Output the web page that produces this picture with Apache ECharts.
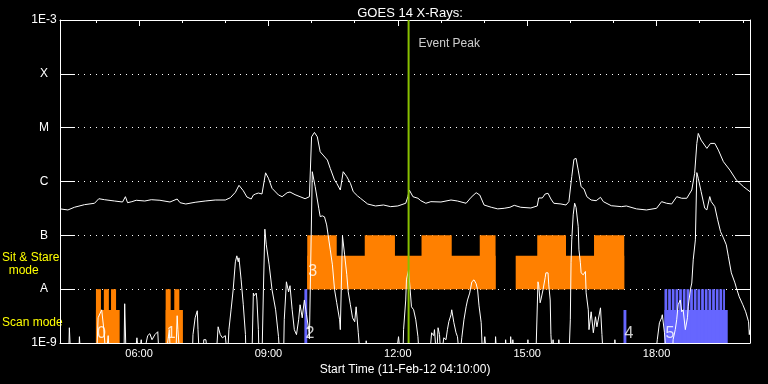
<!DOCTYPE html>
<html><head><meta charset="utf-8">
<script src="https://cdn.jsdelivr.net/npm/echarts@6/dist/echarts.min.js"></script>
<style>html,body{margin:0;padding:0;background:#000}#c{width:768px;height:384px}</style>
</head><body><div id="c"></div>
<script>
// ---- axis range / ticks ----
const axisStart = '04:10';
const axisEnd = '20:10';
const majorTicks = ['06:00','09:00','12:00','15:00','18:00'];
const minorTicks = ['05:00','07:00','08:00','10:00','11:00','13:00','14:00','16:00','17:00','19:00','20:00'];
const yDecades = [1e-9,1e-8,1e-7,1e-6,1e-5,1e-4,1e-3];
const yTickLabels = ['1E-9','A','B','C','M','X','1E-3'];
const xTitle = 'Start Time (11-Feb-12 04:10:00)';
const chartTitle = 'GOES 14 X-Rays:';

// ---- GOES long channel (1-8 A) ----
const longTimes = ['04:10','04:21','04:30','04:44','04:58','05:04','05:12','05:26','05:37','05:41','05:44','05:50','05:56','06:08','06:17','06:29','06:43','06:53','06:57','07:05','07:18','07:32','07:46','08:00','08:07','08:14','08:19','08:25','08:30','08:36','08:39','08:42','08:46','08:51','08:56','09:00','09:05','09:14','09:19','09:26','09:30','09:37','09:44','09:51','09:57','10:00','10:04','10:08','10:12','10:16','10:22','10:26','10:32','10:35','10:40','10:44','10:49','10:54','10:58','11:04','11:08','11:18','11:29','11:40','11:50','12:00','12:11','12:14','12:16','12:21','12:28','12:32','12:39','12:46','13:00','13:14','13:23','13:35','13:42','13:49','13:54','14:00','14:10','14:19','14:28','14:36','14:42','14:51','15:05','15:14','15:16','15:21','15:25','15:29','15:33','15:37','15:47','15:54','15:58','16:02','16:05','16:08','16:11','16:15','16:19','16:23','16:29','16:36','16:42','16:46','16:57','17:11','17:18','17:32','17:46','18:00','18:07','18:14','18:21','18:28','18:35','18:42','18:49','18:53','18:56','18:58','19:02','19:10','19:15','19:21','19:26','19:33','19:42','19:51','20:01','20:10'];
const longFlux = [3.1e-7,2.96e-7,3.32e-7,3.71e-7,3.94e-7,4.79e-7,4.59e-7,4.34e-7,4.16e-7,5.22e-7,4.04e-7,4.22e-7,4.48e-7,4.34e-7,4.59e-7,4.48e-7,4.16e-7,4.73e-7,4.04e-7,3.82e-7,4.11e-7,4.34e-7,4.53e-7,4.53e-7,5.0e-7,6.3e-7,8.49e-7,6.74e-7,5.15e-7,4.73e-7,5.6e-7,5.86e-7,6.1e-7,5.86e-7,1.45e-6,1.15e-6,7.47e-7,5.61e-7,5.22e-7,6.19e-7,6.38e-7,5.69e-7,5.22e-7,4.79e-7,5.22e-7,6.76e-6,8.16e-6,6.76e-6,3.56e-6,3.10e-6,2.50e-6,1.75e-6,1.06e-6,9.25e-7,6.95e-7,1.52e-6,1.23e-6,9.25e-7,6.46e-7,5.38e-7,4.88e-7,3.82e-7,3.51e-7,3.66e-7,3.41e-7,3.51e-7,3.94e-7,5.22e-7,6.95e-7,5.22e-7,4.88e-7,4.40e-7,3.94e-7,4.22e-7,4.16e-7,4.53e-7,4.34e-7,3.94e-7,5.09e-7,6.19e-7,5.61e-7,3.66e-7,3.32e-7,3.1e-7,3.18e-7,3.32e-7,3.61e-7,3.32e-7,3.22e-7,3.51e-7,4.94e-7,4.94e-7,5.86e-7,6.04e-7,4.73e-7,3.94e-7,3.82e-7,3.66e-7,4.22e-7,1.23e-6,2.58e-6,2.69e-6,1.63e-6,8.0e-7,7.25e-7,5.22e-7,4.53e-7,4.40e-7,5.09e-7,4.22e-7,3.55e-7,3.41e-7,3.51e-7,3.1e-7,2.96e-7,3.18e-7,4.22e-7,3.94e-7,3.82e-7,5.22e-7,4.88e-7,4.88e-7,6.95e-7,1.42e-6,5.1e-6,7.82e-6,5.87e-6,4.12e-6,5.1e-6,5.1e-6,3.83e-6,2.33e-6,1.63e-6,1.06e-6,8.0e-7,6.46e-7];

// ---- GOES short channel (0.5-4 A); 5e-10 = below plot floor ----
const shortTimes = ['04:10','04:22','04:23','04:25','04:36','04:37','04:39','05:01','05:03','05:08','05:11','05:14','05:17','05:19','05:39','05:40','05:42','05:54','05:57','06:00','06:03','06:05','06:12','06:15','06:18','06:22','06:26','06:28','06:37','06:42','06:44','06:51','06:53','06:54','06:57','07:14','07:15','07:18','07:21','07:22','07:24','07:29','07:30','07:33','07:36','07:47','07:50','07:53','07:56','08:00','08:03','08:05','08:08','08:11','08:14','08:16','08:18','08:19','08:22','08:25','08:28','08:29','08:37','08:39','08:40','08:43','08:44','08:46','08:47','08:51','08:53','08:55','08:57','09:01','09:05','09:10','09:14','09:16','09:21','09:22','09:25','09:28','09:30','09:33','09:36','09:39','09:42','09:44','09:47','09:50','09:53','09:56','09:57','10:01','10:05','10:10','10:12','10:15','10:18','10:21','10:23','10:26','10:29','10:32','10:35','10:39','10:40','10:43','10:46','10:49','10:51','10:54','10:57','11:00','11:02','11:05','11:08','11:15','11:16','11:18','11:57','12:01','12:04','12:07','12:08','12:11','12:12','12:15','12:16','12:19','12:22','12:25','12:28','12:30','12:44','12:47','12:50','12:51','12:54','12:56','12:58','13:00','13:04','13:07','13:09','13:11','13:14','13:15','13:18','13:21','13:23','13:26','13:29','13:32','13:35','13:37','13:40','13:43','13:46','13:49','13:51','13:53','13:56','13:58','14:01','14:04','14:15','14:16','14:18','14:29','14:30','14:32','14:36','14:37','14:39','14:40','14:42','15:00','15:01','15:02','15:12','15:15','15:16','15:18','15:19','15:22','15:25','15:26','15:29','15:30','15:32','15:33','15:35','15:36','15:37','15:43','15:44','15:46','15:58','16:00','16:01','16:02','16:04','16:06','16:08','16:11','16:12','16:14','16:15','16:18','16:21','16:22','16:25','16:26','16:29','16:32','16:35','16:37','16:42','16:44','16:46','17:01','17:02','17:04','17:58','18:01','18:04','18:07','18:08','18:11','18:14','18:22','18:23','18:26','18:28','18:30','18:33','18:35','18:37','18:40','18:43','18:44','18:47','18:49','18:51','18:54','18:56','18:58','19:02','19:07','19:10','19:14','19:16','19:21','19:25','19:29','19:33','19:37','19:40','19:44','19:49','19:51','19:55','20:00','20:04','20:08','20:09','20:10'];
const shortFlux = [5e-10,5e-10,1.92e-9,5e-10,5e-10,1.31e-9,5e-10,5e-10,2.94e-9,4.14e-9,1.77e-9,5e-10,1.37e-9,5e-10,5e-10,5.36e-9,5e-10,5e-10,1.25e-9,5e-10,1.15e-9,5e-10,1.37e-9,1.49e-9,1.15e-9,1.43e-9,1.62e-9,5e-10,5e-10,1.77e-9,5e-10,5e-10,3.21e-9,1.77e-9,5e-10,5e-10,1.43e-9,2.94e-9,3.97e-9,1.77e-9,5e-10,5e-10,1.15e-9,1.15e-9,5e-10,5e-10,2.0e-9,1.43e-9,1.25e-9,1.37e-9,5e-10,1.77e-9,4.14e-9,1.0e-8,3.22e-8,4.16e-8,3.22e-8,3.82e-8,1.49e-8,5.13e-9,1.43e-9,5e-10,5e-10,8.45e-9,7.54e-9,8.45e-9,6.3e-9,1.77e-9,5e-10,5e-10,9.74e-9,1.3e-7,6.66e-8,2.83e-8,9.74e-9,4.14e-9,1.31e-9,5e-10,5e-10,2.7e-9,1.37e-8,8.9e-9,1.16e-8,4.14e-9,1.77e-9,1.43e-9,2.7e-9,5.13e-9,2.94e-9,6.3e-9,3.35e-9,1.77e-9,1.2e-9,1.52e-6,8.02e-7,3.19e-7,2.23e-7,2.3e-7,2.2e-7,1.56e-7,1.02e-7,5.38e-8,2.83e-8,9.74e-9,5.59e-9,2.7e-9,1.77e-9,9.78e-8,4.34e-8,1.85e-8,8.9e-9,5.13e-9,2.94e-9,2.48e-9,4.7e-9,1.55e-9,5e-10,5e-10,1.1e-9,5e-10,5e-10,1.31e-9,5e-10,5e-10,1.77e-9,6.3e-9,1.49e-8,2.29e-8,2.49e-8,4.7e-9,4.14e-9,2.7e-9,1.31e-9,5e-10,5e-10,1.55e-9,1.37e-9,1.77e-9,5e-10,1.92e-9,1.43e-9,5e-10,1.25e-9,1.15e-9,1.77e-9,2.5e-9,3.35e-9,4.14e-9,2.38e-9,1.55e-9,1.31e-9,5e-10,1.25e-9,2.7e-9,4.7e-9,6.3e-9,8.45e-9,1.37e-8,1.49e-8,1.26e-8,9.74e-9,4.9e-9,2.38e-9,5e-10,1.31e-9,5e-10,5e-10,1.31e-9,5e-10,5e-10,1.15e-9,5e-10,5e-10,1.31e-9,5e-10,1.15e-9,5e-10,5e-10,1.15e-9,5e-10,5e-10,1.37e-8,1.2e-8,5.59e-9,6.3e-9,9.74e-9,1.63e-8,2.01e-8,2.01e-8,1.2e-8,6.3e-9,1.43e-9,5e-10,1.15e-9,5e-10,5e-10,1.15e-9,5e-10,5e-10,2.7e-9,3.09e-8,8.24e-8,2.4e-7,3.95e-7,3.3e-7,1.45e-7,5.38e-8,3.09e-8,2.01e-8,1.85e-8,2.13e-8,8.55e-9,4.14e-9,1.77e-9,3.8e-9,1.55e-9,3.07e-9,2.0e-9,4.5e-9,1.43e-9,5e-10,5e-10,1.15e-9,5e-10,5e-10,1.15e-9,2.38e-9,2.94e-9,3.35e-9,1.55e-9,5e-10,5e-10,1.15e-9,1.77e-9,2.7e-9,5.13e-9,6.3e-9,3.8e-9,4.14e-9,1.77e-9,2.94e-9,4.7e-9,9.74e-9,1.3e-8,3.51e-8,8.24e-8,1.46e-6,1.15e-6,6.48e-7,3.19e-7,2.97e-7,5.24e-7,4.23e-7,3.42e-7,1.94e-7,1.17e-7,8.98e-8,6.66e-8,3.99e-8,2.01e-8,1.31e-8,1.06e-8,7.22e-9,5.13e-9,3.8e-9,2.48e-9,1.43e-9,1.77e-9];

// ---- instrument mode blocks: [start, end, bottom, top] ----
const scanLow = 1e-9, scanMid = 4.1e-9, scanHigh = 1e-8;
const sitLow = 1e-8, sitMid = 4.16e-8, sitHigh = 1e-7;
const orangeBase = [['05:00','05:33',scanLow,scanMid],['06:37','07:01',scanLow,scanMid],['09:54','14:16',sitLow,sitMid],['14:44','17:15',sitLow,sitMid]];
const orangeTall = [['05:00','05:07',scanLow,scanHigh],['05:11','05:18',scanLow,scanHigh],['05:21','05:28',scanLow,scanHigh],['06:37','06:44',scanLow,scanHigh],['06:49','06:56',scanLow,scanHigh],['09:54','10:35',sitLow,sitHigh],['11:14','11:56',sitLow,sitHigh],['12:33','13:15',sitLow,sitHigh],['13:54','14:16',sitLow,sitHigh],['15:14','15:54',sitLow,sitHigh],['16:33','17:15',sitLow,sitHigh]];
const blueBase = [['17:14','17:18',scanLow,scanMid],['18:11','19:39',scanLow,scanMid]];
const blueTall = [['09:50','09:54',scanLow,scanHigh],['18:11:00','18:14:50',scanLow,scanHigh],['18:16:06','18:19:56',scanLow,scanHigh],['18:21:12','18:25:02',scanLow,scanHigh],['18:26:18','18:30:08',scanLow,scanHigh],['18:31:24','18:35:14',scanLow,scanHigh],['18:36:30','18:40:20',scanLow,scanHigh],['18:41:36','18:45:26',scanLow,scanHigh],['18:46:42','18:50:32',scanLow,scanHigh],['18:51:48','18:55:38',scanLow,scanHigh],['18:56:54','19:00:44',scanLow,scanHigh],['19:02:00','19:05:50',scanLow,scanHigh],['19:07:06','19:10:56',scanLow,scanHigh],['19:12:12','19:16:02',scanLow,scanHigh],['19:17:18','19:21:08',scanLow,scanHigh],['19:22:24','19:26:14',scanLow,scanHigh],['19:27:30','19:31:20',scanLow,scanHigh],['19:32:36','19:35:10',scanLow,scanHigh]];

// ---- segment numbers ----
const segText = ['0','1','2','3','4','5'];
const segTimes = ['05:00','06:37','09:50','09:54','17:14','18:11'];
const segFlux = [1.5e-9,1.5e-9,1.5e-9,2.1e-8,1.5e-9,1.5e-9];

// ---- event peak ----
const eventTime = '12:15';
const eventText = 'Event Peak';
const eventTextFlux = 3.7e-4;

// ---- side labels ----
const sitLabel = ['Sit & Stare', '  mode'];
const scanLabel = 'Scan mode';

const FONT = "'Liberation Sans', Arial, sans-serif";
const toMin = s => { const p = s.split(':').map(Number); return p[0]*60 + p[1] + (p[2]||0)/60; };
const fmt = m => { const h = Math.floor(m/60), mm = Math.round(m - h*60); return String(h).padStart(2,'0') + ':' + String(mm).padStart(2,'0'); };
const xMin = toMin(axisStart), xMax = toMin(axisEnd);

const rectRender = color => (params, api) => {
  const p0 = api.coord([api.value(0), api.value(3)]);
  const p1 = api.coord([api.value(1), api.value(2)]);
  return { type: 'rect', shape: { x: p0[0], y: p0[1], width: p1[0]-p0[0], height: p1[1]-p0[1] }, style: { fill: color } };
};
const blockSeries = (rows, color, z) => ({
  type: 'custom', xAxisIndex: 0, yAxisIndex: 0, z, silent: true, clip: true,
  encode: { x: [0,1], y: [2,3] },
  data: rows.map(r => [toMin(r[0]), toMin(r[1]), r[2], r[3]]),
  renderItem: rectRender(color)
});

const ORANGE = '#ff8000', BLUE = '#6666ff', GREEN = '#88c000';
const grid = { left: 60, top: 20, right: 18, bottom: 41 };

const chart = echarts.init(document.getElementById('c'), null, { renderer: 'canvas' });
chart.setOption({
  backgroundColor: '#000',
  animation: false,
  title: { text: chartTitle, left: 405, top: 2, textAlign: 'center',
    textStyle: { color: '#fff', fontSize: 13, fontWeight: 'normal', fontFamily: FONT } },
  grid: [Object.assign({}, grid), Object.assign({}, grid)],
  xAxis: [
    { type: 'value', gridIndex: 0, position: 'bottom', min: xMin, max: xMax,
      axisLine: { show: true, lineStyle: { color: '#fff', width: 1 } },
      axisTick: { show: false },
      splitLine: { show: false },
      axisLabel: { show: true, customValues: majorTicks.map(toMin), formatter: v => fmt(v), color: '#fff', fontSize: 11, fontFamily: FONT, margin: 5 },
      name: xTitle, nameLocation: 'middle', nameGap: 19,
      nameTextStyle: { color: '#fff', fontSize: 12, fontFamily: FONT } },
    { type: 'value', gridIndex: 0, position: 'top', min: xMin, max: xMax,
      axisLine: { show: true, lineStyle: { color: '#fff', width: 1 } },
      axisTick: { show: true, inside: true, length: 6, customValues: majorTicks.map(toMin), lineStyle: { color: '#fff' } },
      axisLabel: { show: false }, splitLine: { show: false } },
    { type: 'value', gridIndex: 1, position: 'top', min: xMin, max: xMax,
      axisLine: { show: false },
      axisTick: { show: true, inside: true, length: 3, customValues: minorTicks.map(toMin), lineStyle: { color: '#fff' } },
      axisLabel: { show: false }, splitLine: { show: false } }
  ],
  yAxis: [
    { type: 'log', logBase: 10, gridIndex: 0, position: 'left', min: yDecades[0], max: yDecades[yDecades.length-1],
      axisLine: { show: true, lineStyle: { color: '#fff' } },
      axisTick: { show: true, inside: true, length: 15, customValues: yDecades.slice(1, -1), lineStyle: { color: '#fff' } },
      axisLabel: { show: true, customValues: yDecades, align: 'center', margin: 16, color: '#fff', fontSize: 12, fontFamily: FONT,
        formatter: v => yTickLabels[Math.round(Math.log10(v)) + 9] },
      splitLine: { show: true, lineStyle: { color: '#fff', width: 1, type: [1,5] } } },
    { type: 'log', logBase: 10, gridIndex: 0, position: 'right', min: yDecades[0], max: yDecades[yDecades.length-1],
      axisLine: { show: true, lineStyle: { color: '#fff' } },
      axisTick: { show: true, inside: true, length: 15, customValues: yDecades.slice(1, -1), lineStyle: { color: '#fff' } },
      axisLabel: { show: false }, splitLine: { show: false } },
    { type: 'log', gridIndex: 1, min: yDecades[0], max: yDecades[yDecades.length-1], show: false }
  ],
  graphic: [
    { type: 'text', left: 2, top: 252, style: { text: sitLabel[0], fill: '#ffff00', font: '12px ' + FONT } },
    { type: 'text', left: 2, top: 265, style: { text: sitLabel[1], fill: '#ffff00', font: '12px ' + FONT } },
    { type: 'text', left: 2, top: 317, style: { text: scanLabel, fill: '#ffff00', font: '12px ' + FONT } }
  ],
  series: [
    blockSeries(orangeBase, ORANGE, 1),
    blockSeries(orangeTall, ORANGE, 1),
    blockSeries(blueBase, BLUE, 1),
    blockSeries(blueTall, BLUE, 1),
    { type: 'line', z: 2, silent: true, symbol: 'none', clip: true, xAxisIndex: 0, yAxisIndex: 0,
      lineStyle: { color: '#fff', width: 1 },
      data: longTimes.map((t,i) => [toMin(t), longFlux[i]]) },
    { type: 'line', z: 2, silent: true, symbol: 'none', clip: true, xAxisIndex: 0, yAxisIndex: 0,
      lineStyle: { color: '#fff', width: 1 },
      data: shortTimes.map((t,i) => [toMin(t), shortFlux[i]]) },
    { type: 'scatter', z: 3, silent: true, symbolSize: 0, xAxisIndex: 0, yAxisIndex: 0,
      data: segTimes.map((t,i) => [toMin(t), segFlux[i], segText[i]]),
      label: { show: true, position: 'inside', align: 'left', verticalAlign: 'middle', offset: [1,0],
        formatter: p => p.value[2], color: '#fff', fontSize: 16, fontFamily: FONT } },
    { type: 'line', z: 4, silent: true, symbol: 'none', clip: true, xAxisIndex: 0, yAxisIndex: 0,
      lineStyle: { color: GREEN, width: 2 },
      data: [[toMin(eventTime), yDecades[0]], [toMin(eventTime), yDecades[yDecades.length-1]]] },
    { type: 'scatter', z: 4, silent: true, symbolSize: 0, xAxisIndex: 0, yAxisIndex: 0,
      data: [[toMin(eventTime), eventTextFlux]],
      label: { show: true, position: 'inside', align: 'left', verticalAlign: 'middle', offset: [10,0],
        formatter: eventText, color: '#fff', fontSize: 12, fontFamily: FONT } }
  ]
});
</script></body></html>
